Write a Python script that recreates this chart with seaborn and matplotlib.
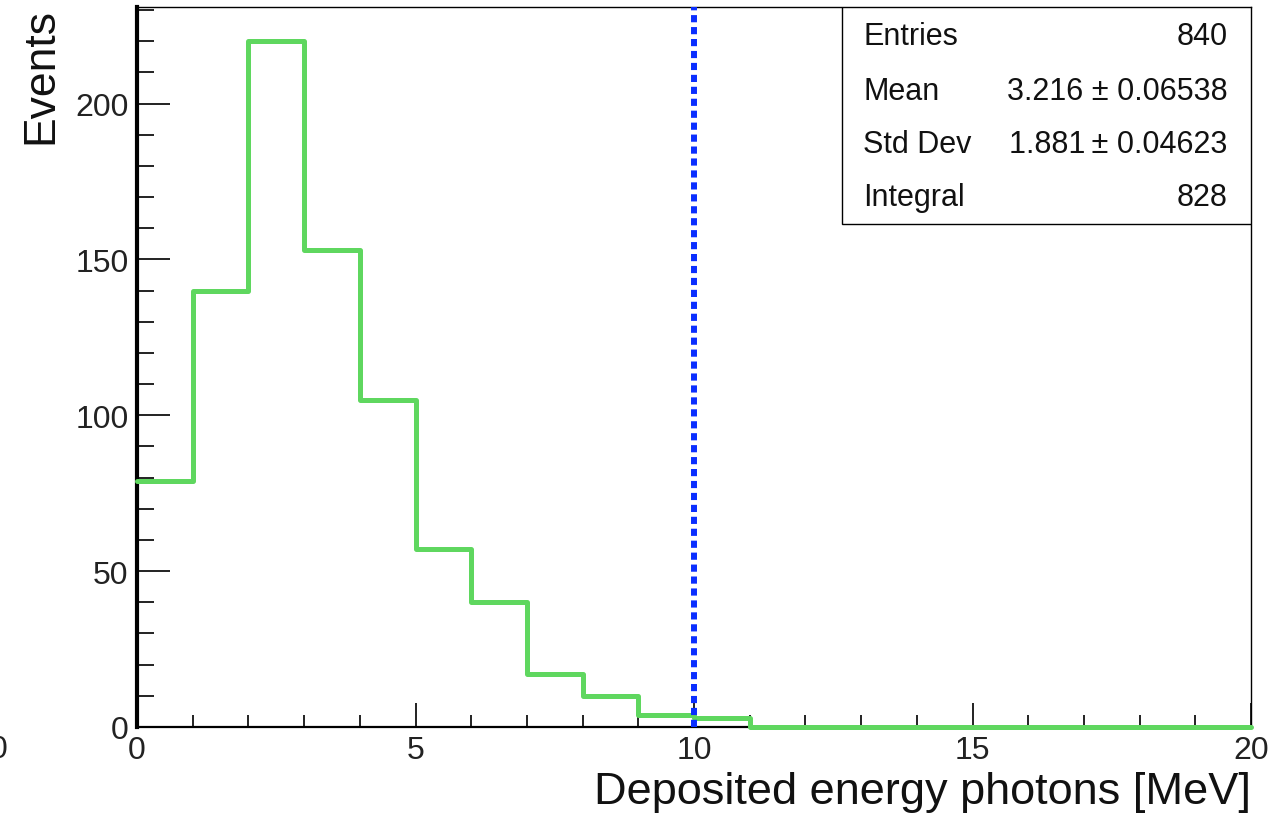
import numpy as np
import pandas as pd
import matplotlib
matplotlib.use("Agg")
import matplotlib.pyplot as plt
import matplotlib.ticker as ticker
import seaborn as sns

# Histogram contents (1 MeV bins from 0 to 20)
bin_edges = list(range(0, 21))
counts = [79, 140, 220, 153, 105, 57, 40, 17, 10, 4, 3, 0, 0, 0, 0, 0, 0, 0, 0, 0]
cut_value = 10

# Stats box
stat_names = ["Entries", "Mean", "Std Dev", "Integral"]
stat_values = ["840", "3.216 \u00b1 0.06538", "1.881\u2009\u00b1 0.04623", "828"]

df = pd.DataFrame({"energy": [e + 0.5 for e in bin_edges[:-1]], "count": counts})

sns.set_theme(style="white")
plt.rcParams['font.family'] = ['Liberation Sans', 'DejaVu Sans']

fig = plt.figure(figsize=(12.78, 8.2), dpi=100)
ax = fig.add_axes([0.1072, 0.1122, 0.8717, 0.878])

sns.histplot(data=df, x="energy", weights="count", bins=bin_edges,
             element="step", fill=False, color="#5fd75f", linewidth=3.6, ax=ax)
for ln in ax.lines:
    ln.set_clip_on(False)
    ln.set_zorder(5)

ax.axvline(cut_value, color="#0a2eff", linewidth=4.3, linestyle=(0, (1.2, 0.8)), zorder=6)

ax.set_xlim(0, 20)
ax.set_ylim(0, 231)
ax.xaxis.set_major_locator(ticker.MultipleLocator(5))
ax.xaxis.set_minor_locator(ticker.MultipleLocator(1))
ax.yaxis.set_major_locator(ticker.MultipleLocator(50))
ax.yaxis.set_minor_locator(ticker.MultipleLocator(10))
ax.tick_params(which="both", bottom=True, left=True, top=False, right=False)
ax.tick_params(axis="x", which="major", direction="in", length=17, width=1.4,
               labelsize=23, pad=6, colors="#222222")
ax.tick_params(axis="x", which="minor", direction="in", length=8.6, width=1.4, colors="#222222")
ax.tick_params(axis="y", which="major", direction="in", length=24, width=1.4,
               labelsize=23, pad=6, colors="#222222")
ax.tick_params(axis="y", which="minor", direction="in", length=12, width=1.4, colors="#222222")

for side, w in [("left", 3.0), ("bottom", 1.6), ("top", 1.0), ("right", 1.0)]:
    ax.spines[side].set_visible(True)
    ax.spines[side].set_linewidth(w)
    ax.spines[side].set_color("black")

ax.set_xlabel("Deposited energy photons [MeV]", fontsize=32.5, ha="right", x=1.0,
              labelpad=4, color="#111111")
ax.set_ylabel("Events", fontsize=32, ha="right", y=1.0, labelpad=10, color="#111111")

# Stats box
box = plt.Rectangle((0.633, 0.699), 0.367, 0.301, transform=ax.transAxes,
                    facecolor="white", edgecolor="black", linewidth=1.0, zorder=7)
ax.add_patch(box)
row_y = [0.96, 0.884, 0.81, 0.736]
for name, val, yy in zip(stat_names, stat_values, row_y):
    ax.text(0.652, yy, name, transform=ax.transAxes, fontsize=22,
            ha="left", va="center", zorder=8, color="#111111")
    ax.text(0.979, yy, val, transform=ax.transAxes, fontsize=22,
            ha="right", va="center", zorder=8, color="#111111")

# clipped label from neighbouring pad at the left edge
fig.text(0.006, 0.085, "0", fontsize=23, ha="right", va="center", color="#222222")

plt.savefig("out.png", dpi=100)
